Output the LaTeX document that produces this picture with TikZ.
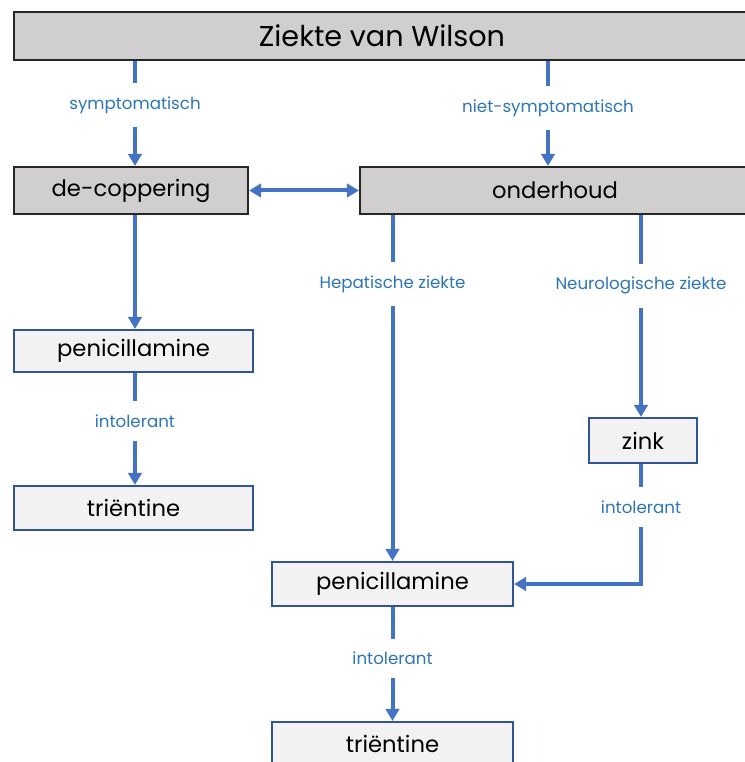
\documentclass[tikz,border=0pt]{standalone}
\usepackage{fontspec}
\setmainfont{Poppins}
\definecolor{BoxGray}    {RGB}{208, 206, 206}
\definecolor{BoxLight}   {RGB}{242, 242, 242}
\definecolor{EdgeBlue}   {RGB}{47,  85,  151}
\definecolor{ArrowBlue}  {RGB}{68,  114, 196}
\definecolor{LabelBlue}  {RGB}{46,  117, 182}
\usetikzlibrary{arrows.meta, positioning}

\begin{document}
\begin{tikzpicture}[
  x=0.75pt, y=-0.75pt,
  box/.style={
    draw, line width=1.6pt,
    inner sep=0pt, align=center
  },
  main/.style={box,
    draw=black!85, fill=BoxGray, font=\fontsize{17}{20}\selectfont},
  drug/.style={box,
    draw=EdgeBlue, fill=BoxLight, font=\fontsize{17}{20}\selectfont},
  arrow/.style={
    -{Triangle[length=9pt,width=10pt]},
    line width=3pt,
    color=ArrowBlue},
  note/.style={
    font=\fontsize{12.5}{15}\selectfont, text=LabelBlue,
    fill=white, inner xsep=2pt, inner ysep=10pt}
]
\useasboundingbox[fill=white] (0,0) rectangle (744,762);

\node[main, minimum width=552pt, minimum height=36pt,
  font=\fontsize{21.5}{26}\selectfont] (wilson) at (382,36)
  {Ziekte van Wilson};

\node[main, minimum width=175.5pt, minimum height=35.25pt]
  (decop) at (131,190.5) {de-coppering};
\node[main, minimum width=292.5pt, minimum height=35.25pt]
  (onderh) at (555,190.5) {onderhoud};

\node[drug, minimum width=179.25pt, minimum height=31.5pt]
  (penA) at (133.5,351) {penicillamine};
\node[drug, minimum width=179.25pt, minimum height=33pt]
  (trienA) at (133.5,508) {triëntine};

\node[drug, minimum width=81pt, minimum height=33.75pt]
  (zink) at (643,440.5) {zink};

\node[drug, minimum width=180.75pt, minimum height=33pt]
  (penB) at (392.5,584) {penicillamine};
\node[drug, minimum width=180.75pt, minimum height=33pt]
  (trienB) at (392.5,744) {triëntine};

\draw[arrow] ([xshift=3pt]decop.north |- wilson.south) --
  node[note, pos=0.42] {symptomatisch} ([xshift=3pt]decop.north);
\draw[arrow] ([xshift=-5.25pt]onderh.north |- wilson.south) --
  node[note, pos=0.45] {niet-symptomatisch} ([xshift=-5.25pt]onderh.north);

\draw[arrow, {Triangle[length=9pt,width=10pt]}-{Triangle[length=9pt,width=10pt]}]
  (decop) -- (onderh);

\draw[arrow] ([xshift=3pt]decop.south) --
  ([xshift=3pt]decop.south |- penA.north);
\draw[arrow] ([xshift=1.1pt]penA.south) --
  node[note, pos=0.43] {intolerant} ([xshift=1.1pt]trienA.north);

\draw[arrow] (penB |- onderh.south) --
  node[note, pos=0.2] {Hepatische ziekte} (penB.north);
\draw[arrow] ([xshift=-1.5pt]zink.north |- onderh.south) --
  node[note, pos=0.35] {Neurologische ziekte} ([xshift=-1.5pt]zink.north);

\draw[arrow] ([xshift=-1.5pt]zink.south) |-
  node[note, pos=0.18] {intolerant} (penB.east);
\draw[arrow] (penB) --
  node[note, pos=0.45] {intolerant} (trienB);
\end{tikzpicture}
\end{document}
